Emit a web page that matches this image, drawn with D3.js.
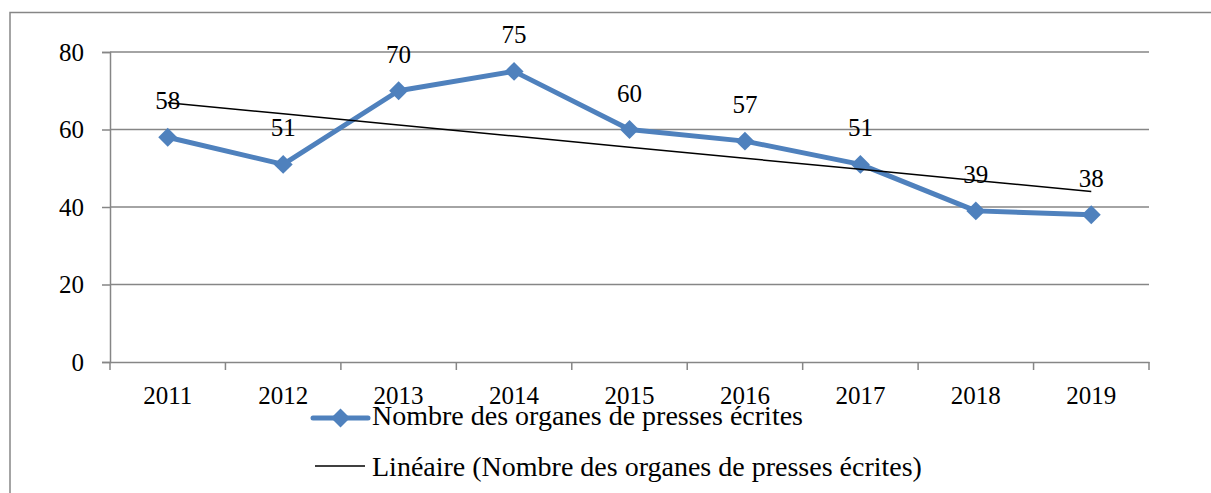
<!DOCTYPE html>
<html>
<head>
<meta charset="utf-8">
<script src="https://cdn.jsdelivr.net/npm/d3@7"></script>
<style>
  body { margin: 0; background: #fff; }
  svg text { font-family: "Liberation Serif", "DejaVu Serif", serif !important; fill: #000; }
</style>
</head>
<body>
<script>
// data
var years = ["2011", "2012", "2013", "2014", "2015", "2016", "2017", "2018", "2019"];
var values = [58, 51, 70, 75, 60, 57, 51, 39, 38];
var yTicks = [0, 20, 40, 60, 80];
var seriesName = "Nombre des organes de presses écrites";
var trendName = "Linéaire (Nombre des organes de presses écrites)";

var width = 1211, height = 493;
var plot = {left: 110, right: 1149, top: 52, bottom: 362};
var blue = "#4F81BD", grey = "#868686";

var svg = d3.select("body").append("svg")
    .attr("width", width)
    .attr("height", height);

// outer chart border
svg.append("rect")
    .attr("x", 10).attr("y", 12.5)
    .attr("width", 1210).attr("height", 500)
    .style("fill", "none")
    .style("stroke", grey)
    .style("stroke-width", 1.5);

var xScale = d3.scaleBand().domain(years).range([plot.left, plot.right]);
var yScale = d3.scaleLinear().domain([0, 80]).range([plot.bottom, plot.top]);
var cx = function(d, i) { return xScale(years[i]) + xScale.bandwidth() / 2; };

//gridlines
svg.append("g").selectAll("line")
    .data(yTicks.slice(1))
    .enter().append("line")
    .attr("x1", plot.left).attr("x2", plot.right)
    .attr("y1", function(d) { return yScale(d); })
    .attr("y2", function(d) { return yScale(d); })
    .style("stroke", grey).style("stroke-width", 1.5);

//y axis
var yAxis = d3.axisLeft(yScale).tickValues(yTicks).tickSize(8).tickPadding(18);
var gy = svg.append("g")
    .attr("transform", "translate(" + plot.left + ",0)")
    .call(yAxis)
    .attr("font-family", null);
gy.selectAll("line, path").style("stroke", grey).style("stroke-width", 1.5);
gy.selectAll("text").style("font-size", "25px");

//x axis (labels centred in the bands, ticks on the band edges)
var xAxis = d3.axisBottom(xScale).tickSize(0).tickPadding(24);
var gx = svg.append("g")
    .attr("transform", "translate(0," + plot.bottom + ")")
    .call(xAxis)
    .attr("font-family", null);
gx.select("path").style("stroke", grey).style("stroke-width", 1.5);
gx.selectAll("text").style("font-size", "25px");

var edges = years.map(function(d) { return xScale(d); }).concat([plot.right]);
svg.append("g").selectAll("line")
    .data(edges)
    .enter().append("line")
    .attr("x1", function(d) { return d; }).attr("x2", function(d) { return d; })
    .attr("y1", plot.bottom).attr("y2", plot.bottom + 8)
    .style("stroke", grey).style("stroke-width", 1.5);

//main series
var line = d3.line()
    .x(function(d, i) { return cx(d, i); })
    .y(function(d) { return yScale(d); });

svg.append("path")
    .datum(values)
    .attr("d", line)
    .style("fill", "none")
    .style("stroke", blue)
    .style("stroke-width", 5)
    .style("stroke-linejoin", "round");

var diamond = d3.symbol().type(d3.symbolDiamond2).size(230);
svg.append("g").selectAll("path")
    .data(values)
    .enter().append("path")
    .attr("d", diamond)
    .attr("transform", function(d, i) { return "translate(" + cx(d, i) + "," + yScale(d) + ")"; })
    .style("fill", blue);

//linear trend (least squares over the series)
var n = values.length;
var mx = (n + 1) / 2, my = d3.mean(values);
var sxy = d3.sum(values, function(d, i) { return (i + 1 - mx) * (d - my); });
var sxx = d3.sum(values, function(d, i) { return (i + 1 - mx) * (i + 1 - mx); });
var slope = sxy / sxx;
var trend = values.map(function(d, i) { return my + slope * (i + 1 - mx); });

svg.append("path")
    .datum(trend)
    .attr("d", line)
    .style("fill", "none")
    .style("stroke", "#000")
    .style("stroke-width", 1.5);

//data labels
svg.append("g").selectAll("text")
    .data(values)
    .enter().append("text")
    .attr("x", function(d, i) { return cx(d, i); })
    .attr("y", function(d) { return yScale(d) - 28; })
    .attr("text-anchor", "middle")
    .style("font-size", "25px")
    .text(function(d) { return d; });

//legend
var lg1 = svg.append("g").attr("transform", "translate(313,418)");
lg1.append("line").attr("x1", 0).attr("x2", 55).attr("y1", 0).attr("y2", 0)
    .style("stroke", blue).style("stroke-width", 5).style("stroke-linecap", "round");
lg1.append("path").attr("d", diamond).attr("transform", "translate(27.5,0)").style("fill", blue);
lg1.append("text").attr("x", 59).attr("y", 7).style("font-size", "28px").text(seriesName);

var lg2 = svg.append("g").attr("transform", "translate(315,466)");
lg2.append("line").attr("x1", 0).attr("x2", 50).attr("y1", 0).attr("y2", 0)
    .style("stroke", "#000").style("stroke-width", 1.5);
lg2.append("text").attr("x", 57).attr("y", 10).style("font-size", "28px").text(trendName);
</script>
</body>
</html>
